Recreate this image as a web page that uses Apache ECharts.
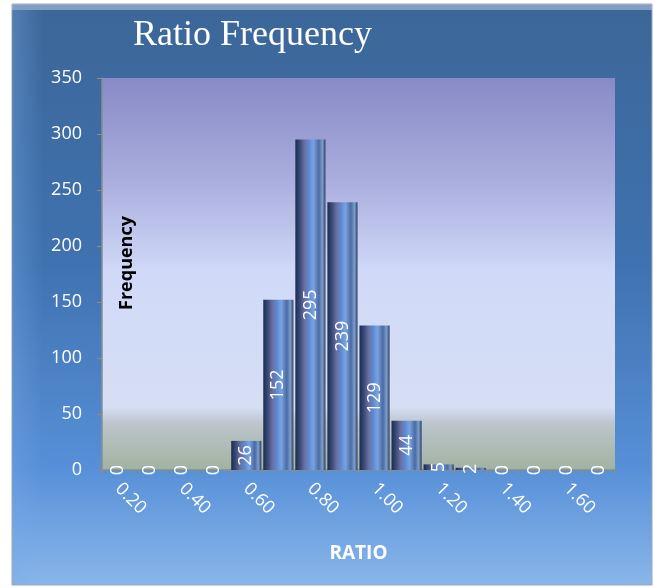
<!DOCTYPE html>
<html>
<head>
<meta charset="utf-8">
<script src="https://cdn.jsdelivr.net/npm/echarts@6/dist/echarts.min.js"></script>
<style>html,body{margin:0;padding:0;background:#fff;}#c{width:654px;height:588px;}</style>
</head>
<body>
<div id="c"></div>
<script>
const categories = ['0.20','0.30','0.40','0.50','0.60','0.70','0.80','0.90','1.00','1.10','1.20','1.30','1.40','1.50','1.60','1.70'];
const frequency = [0,0,0,0,26,152,295,239,129,44,5,2,0,0,0,0];
const yTicks = {min:0, max:350, interval:50};

const chart = echarts.init(document.getElementById('c'));
const barGrad = new echarts.graphic.LinearGradient(0,0,1,0,[
  {offset:0, color:'#1b2c4e'},
  {offset:0.15, color:'#3a4a78'},
  {offset:0.3, color:'#6a6e9e'},
  {offset:0.45, color:'#5b8ad2'},
  {offset:0.6, color:'#7aa2e0'},
  {offset:0.78, color:'#4a6aa4'},
  {offset:0.9, color:'#7e9cc8'},
  {offset:1, color:'#2c4066'}
]);
chart.setOption({
  backgroundColor:'#ffffff',
  animation:false,
  graphic:[{
    type:'rect', z:-10, silent:true,
    shape:{x:12,y:4,width:640,height:581},
    style:{fill:new echarts.graphic.LinearGradient(0,0,0,1,[
      {offset:0,color:'#3c6698'},
      {offset:0.45,color:'#3f72b0'},
      {offset:0.8,color:'#5790d8'},
      {offset:1,color:'#8ab6ea'}
    ]), stroke:'#9aa8b8', lineWidth:1}
  },{
    type:'rect', z:-9, silent:true,
    shape:{x:12,y:4,width:640,height:6},
    style:{fill:'rgba(200,215,235,0.5)'}
  },{
    type:'rect', z:-9, silent:true,
    shape:{x:13,y:10,width:30,height:574},
    style:{fill:new echarts.graphic.LinearGradient(0,0,1,0,[
      {offset:0,color:'rgba(120,170,230,0.35)'},
      {offset:1,color:'rgba(120,170,230,0)'}
    ])}
  }],
  title:{
    text:'Ratio Frequency', left:128, top:13,
    textStyle:{color:'#ffffff', fontFamily:'Liberation Serif', fontWeight:'normal', fontSize:36}
  },
  grid:{left:102, right:39, top:78, bottom:118, show:true, borderWidth:0,
    backgroundColor:new echarts.graphic.LinearGradient(0,0,0,1,[
      {offset:0,color:'#888ac6'},
      {offset:0.25,color:'#a8acdc'},
      {offset:0.5,color:'#d0daf8'},
      {offset:0.84,color:'#d6def4'},
      {offset:0.88,color:'#bcc6cc'},
      {offset:1,color:'#a2b2a0'}
    ])},
  xAxis:{
    type:'category', data:categories,
    name:'RATIO', nameLocation:'middle', nameGap:74,
    nameTextStyle:{color:'#ffffff', fontFamily:'Open Sans', fontWeight:'bold', fontSize:19},
    axisLine:{lineStyle:{color:'#8c8c8c', width:1.5}},
    axisTick:{show:true, interval:0, length:5, lineStyle:{color:'#8c8c8c'}},
    axisLabel:{interval:1, rotate:-45, color:'#ffffff', fontFamily:'Open Sans', fontSize:18, margin:16}
  },
  yAxis:{
    type:'value', min:yTicks.min, max:yTicks.max, interval:yTicks.interval,
    name:'Frequency', nameLocation:'middle', nameGap:-34, nameRotate:90,
    nameTextStyle:{color:'#000000', fontFamily:'Open Sans', fontWeight:'bold', fontSize:18, padding:[0,0,0,22]},
    axisLine:{show:true, lineStyle:{color:'#8c8c8c', width:1.5}},
    axisTick:{show:true, length:5, lineStyle:{color:'#8c8c8c'}},
    splitLine:{show:false},
    axisLabel:{color:'#ffffff', fontFamily:'Open Sans', fontSize:18, margin:20}
  },
  series:[{
    type:'bar', data:frequency, barCategoryGap:'6%',
    itemStyle:{color:barGrad},
    label:{show:true, position:'inside', rotate:90, color:'#ffffff', fontFamily:'Open Sans', fontSize:18}
  }]
});
</script>
</body>
</html>
